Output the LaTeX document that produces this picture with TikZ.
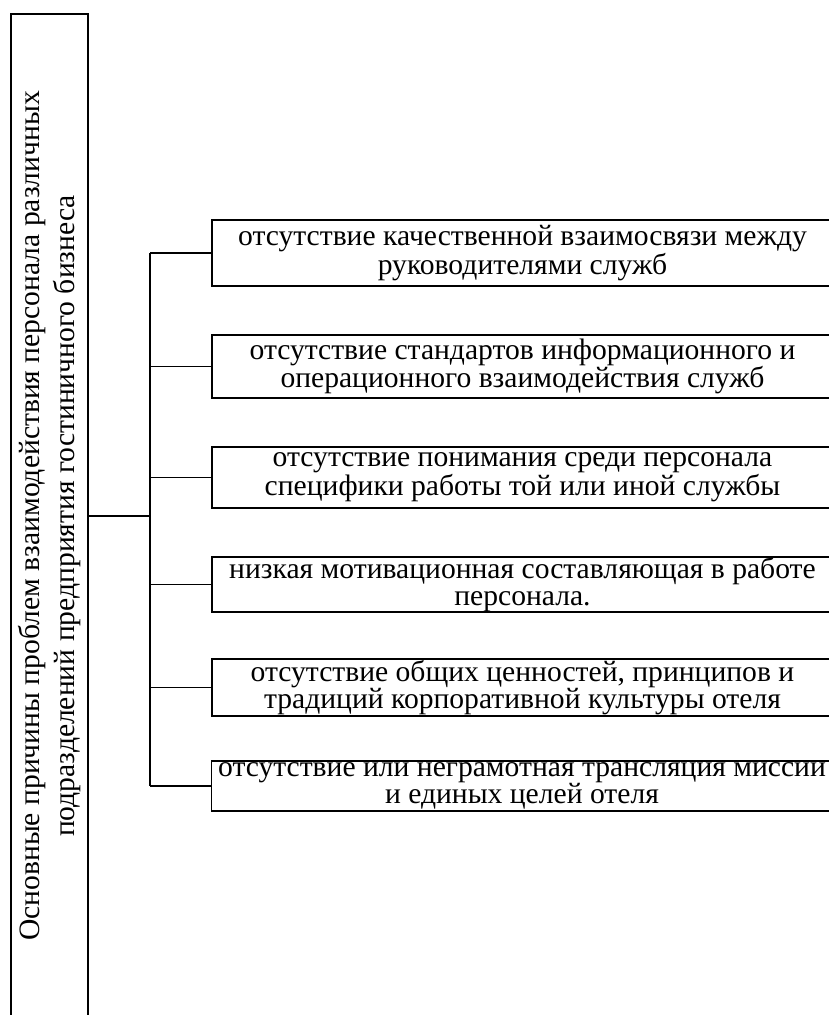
\documentclass[tikz,border=0pt]{standalone}
\usepackage{fontspec}
\setmainfont{Liberation Serif}
\begin{document}
\begin{tikzpicture}[x=1pt,y=-1pt,
  causebox/.style={draw,line width=1.2pt,minimum width=621pt,inner sep=0pt,
    align=center,font=\fontsize{29.6}{27.5}\selectfont},
  link/.style={line width=1.6pt}]
\useasboundingbox (0,0) rectangle (829,1015);
\node[draw,line width=1.2pt,rotate=90,minimum width=1004pt,minimum height=77pt,
  inner sep=0pt,align=center,font=\fontsize{29.6}{35.5}\selectfont] (main) at (49.5,516)
  {Основные причины проблем взаимодействия персонала различных\\подразделений предприятия гостиничного бизнеса};
\node[causebox,minimum height=66pt] (b1) at (522.5,253) {отсутствие качественной взаимосвязи между\\руководителями служб};
\node[causebox,minimum height=63pt] (b2) at (522.5,366.5) {отсутствие стандартов информационного и\\операционного взаимодействия служб};
\node[causebox,minimum height=61pt] (b3) at (522.5,477.5) {отсутствие понимания среди персонала\\специфики работы той или иной службы};
\node[causebox,minimum height=53pt] (b4) at (522.5,584.5) {низкая мотивационная составляющая в работе\\персонала.};
\node[causebox,minimum height=57pt] (b5) at (522.5,687.5) {отсутствие общих ценностей, принципов и\\традиций корпоративной культуры отеля};
\node[causebox,minimum height=50pt] (b6) at (522,786) {отсутствие или неграмотная трансляция миссии\\и единых целей отеля};
\coordinate (j) at (150,516);
\coordinate (vt) at (150,253);
\coordinate (vb) at (150,786);
\draw[link] (main.south) -- (j);
\draw[link] (vt) -- (vb);
\foreach \b in {b1,b2,b3,b4,b5,b6}
  \draw[link] (vt |- \b.west) -- (\b.west);
\end{tikzpicture}
\end{document}
